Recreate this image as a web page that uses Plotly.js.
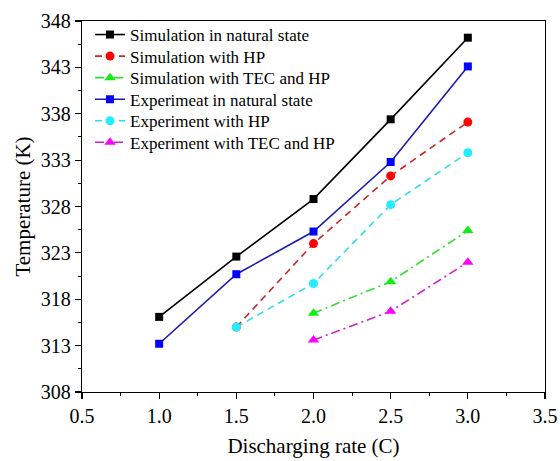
<!DOCTYPE html>
<html>
<head>
<meta charset="utf-8">
<script src="https://cdn.plot.ly/plotly-3.0.1.min.js"></script>
<style>html,body{margin:0;padding:0;background:#fff;}#chart{width:560px;height:461px;}</style>
</head>
<body>
<div id="chart"></div>
<script>
var seriesNames = [
  "Simulation in natural state",
  "Simulation with HP",
  "Simulation with TEC and HP",
  "Experimeat in natural state",
  "Experiment with HP",
  "Experiment with TEC and HP"
];
var xSimNatural = [1.0, 1.5, 2.0, 2.5, 3.0];
var ySimNatural = [316.1, 322.6, 328.8, 337.4, 346.2];
var xSimHP = [1.5, 2.0, 2.5, 3.0];
var ySimHP = [315.0, 324.0, 331.3, 337.1];
var xSimTEC = [2.0, 2.5, 3.0];
var ySimTEC = [316.5, 319.9, 325.4];
var xExpNatural = [1.0, 1.5, 2.0, 2.5, 3.0];
var yExpNatural = [313.2, 320.7, 325.3, 332.8, 343.1];
var xExpHP = [1.5, 2.0, 2.5, 3.0];
var yExpHP = [315.0, 319.7, 328.2, 333.8];
var xExpTEC = [2.0, 2.5, 3.0];
var yExpTEC = [313.6, 316.7, 322.0];
var yTicks = [308, 313, 318, 323, 328, 333, 338, 343, 348];
var xTicks = [0.5, 1.0, 1.5, 2.0, 2.5, 3.0, 3.5];
var xTickText = ["0.5", "1.0", "1.5", "2.0", "2.5", "3.0", "3.5"];

var FONT = "'Liberation Serif', 'Times New Roman', serif";

function tr(i, x, y, lineColor, markerColor, dash, symbol, msize) {
  return {
    type: "scatter", mode: "lines+markers", name: seriesNames[i], x: x, y: y,
    legend: i === 0 ? "legend" : "legend" + (i + 1),
    line: {color: lineColor, width: 1.6, dash: dash},
    marker: {color: markerColor, symbol: symbol, size: msize, line: {width: 0}}
  };
}

var data = [
  tr(0, xSimNatural, ySimNatural, "#000000", "#000000", "solid", "square", 8),
  tr(1, xSimHP, ySimHP, "#c8282a", "#ff0000", "7px,5px", "circle", 9),
  tr(2, xSimTEC, ySimTEC, "#33dd33", "#11ee11", "9px,4px,2px,4px", "triangle-up", 10),
  tr(3, xExpNatural, yExpNatural, "#1c1cb0", "#0000ff", "solid", "square", 8),
  tr(4, xExpHP, yExpHP, "#33dde0", "#22eeff", "7px,5px", "circle", 9),
  tr(5, xExpTEC, yExpTEC, "#cc22cc", "#ff00ff", "9px,4px,2px,4px", "triangle-up", 10)
];

var layout = {
  width: 560, height: 461,
  margin: {l: 82, r: 15, t: 21, b: 69},
  paper_bgcolor: "#ffffff", plot_bgcolor: "#ffffff",
  font: {family: FONT, color: "#000000", size: 20},
  showlegend: true,
  xaxis: {
    range: [0.5, 3.5], tickvals: xTicks, ticktext: xTickText,
    showgrid: false, zeroline: false,
    showline: true, linecolor: "#000000", linewidth: 1.2, mirror: true,
    ticks: "outside", ticklen: 6, tickwidth: 1.2, tickcolor: "#000000",
    minor: {ticks: "outside", ticklen: 3, tickwidth: 1, tickcolor: "#000000", dtick: 0.25, tick0: 0.5, showgrid: false},
    tickfont: {family: FONT, size: 20},
    title: {text: "Discharging rate (C)", font: {family: FONT, size: 21}, standoff: 12}
  },
  yaxis: {
    range: [308, 348], tickvals: yTicks,
    showgrid: false, zeroline: false,
    showline: true, linecolor: "#000000", linewidth: 1.2, mirror: true,
    ticks: "outside", ticklen: 6, tickwidth: 1.2, tickcolor: "#000000",
    minor: {ticks: "outside", ticklen: 3, tickwidth: 1, tickcolor: "#000000", dtick: 2.5, tick0: 308, showgrid: false},
    tickfont: {family: FONT, size: 20},
    title: {text: "Temperature (K)", font: {family: FONT, size: 21}, standoff: 4}
  }
};

// one legend box per series so the rows can follow the reference spacing
var legendTop = 0.9623, legendStep = 0.0581;
for (var i = 0; i < seriesNames.length; i++) {
  var key = i === 0 ? "legend" : "legend" + (i + 1);
  layout[key] = {
    x: 0.0173, y: legendTop - i * legendStep, xanchor: "left", yanchor: "middle",
    bgcolor: "rgba(0,0,0,0)", borderwidth: 0,
    font: {family: FONT, size: 17, color: "#000000"}
  };
}

Plotly.newPlot("chart", data, layout, {displayModeBar: false, staticPlot: true});
</script>
</body>
</html>
